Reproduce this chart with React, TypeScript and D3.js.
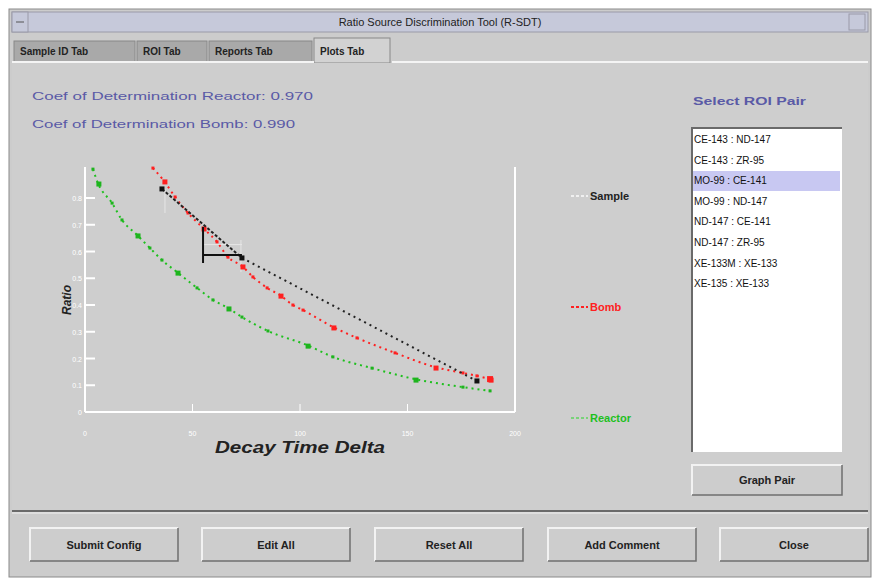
import React from "react";
import * as d3 from "d3";

const reactorX = [3.7, 6.0, 12.6, 17.2, 24.2, 30.2, 35.8, 42.8, 52.1, 59.5, 66.5, 73.0, 85.1, 103.3, 115.3, 133.5, 153.5, 175.8, 188.4];
const reactorY = [9.08, 8.56, 7.81, 7.18, 6.62, 6.13, 5.68, 5.23, 4.64, 4.19, 3.89, 3.55, 3.03, 2.5, 2.06, 1.64, 1.23, 0.93, 0.79];
const bombX = [31.6, 36.7, 41.9, 47.9, 54.9, 61.4, 66.5, 73.0, 78.1, 84.7, 90.7, 96.7, 101.4, 115.3, 126.5, 144.2, 162.8, 175.8, 182.3, 188.4];
const bombY = [9.12, 8.64, 8.04, 7.44, 6.88, 6.36, 5.79, 5.46, 5.05, 4.64, 4.37, 4.0, 3.81, 3.18, 2.77, 2.21, 1.68, 1.46, 1.35, 1.23];
const sampleX = [35.8, 73.0, 182.3];
const sampleY = [8.34, 5.76, 1.16];
// error bars of the middle sample point
const sampleErrX = [54.9, 73.0];
const sampleErrY = [5.57, 6.92];
const sampleErrAt = [54.9, 5.87];

const xTicks = [0, 50, 100, 150, 200];
const yTicks = [0, 1, 2, 3, 4, 5, 6, 7, 8];
const yTickLabels = ["0", "0.1", "0.2", "0.3", "0.4", "0.5", "0.6", "0.7", "0.8"];

const tabs = ["Sample ID Tab", "ROI Tab", "Reports Tab", "Plots Tab"];
const roiPairs = ["CE-143 : ND-147", "CE-143 : ZR-95", "MO-99 : CE-141", "MO-99 : ND-147", "ND-147 : CE-141", "ND-147 : ZR-95", "XE-133M : XE-133", "XE-135 : XE-133"];
const buttons = ["Submit Config", "Edit All", "Reset All", "Add Comment", "Close"];
const legendNames = ["Sample", "Bomb", "Reactor"];
const coefLines = ["Coef of Determination  Reactor: 0.970", "Coef of Determination Bomb: 0.990"];

const FONT = "'Liberation Sans', Arial, sans-serif";

function Button({ x, y, w, h, label }: { x: number; y: number; w: number; h: number; label: string }) {
  return (
    <g>
      <rect x={x} y={y} width={w} height={h} fill="#cdcdcd" />
      <path d={`M${x},${y + h} V${y} H${x + w}`} stroke="#f2f2f2" strokeWidth={2} fill="none" />
      <path d={`M${x + w},${y} V${y + h} H${x}`} stroke="#6f6f6f" strokeWidth={1.5} fill="none" />
      <text x={x + w / 2} y={y + h / 2 + 4} textAnchor="middle" fontSize={11} fontWeight="bold" fill="#222" fontFamily={FONT}>{label}</text>
    </g>
  );
}

export default function App() {
  const x = d3.scaleLinear().domain([0, 200]).range([85, 515]);
  const y = d3.scaleLinear().domain([0, 9.16]).range([412, 167]);
  const line = d3.line<[number, number]>().x((d) => x(d[0])).y((d) => y(d[1])).curve(d3.curveMonotoneX);
  const reactor: [number, number][] = reactorX.map((v, i) => [v, reactorY[i]]);
  const bomb: [number, number][] = bombX.map((v, i) => [v, bombY[i]]);
  const sample: [number, number][] = sampleX.map((v, i) => [v, sampleY[i]]);
  const sampleLine = d3.line<[number, number]>().x((d) => x(d[0])).y((d) => y(d[1]));

  const tabX = [14, 137, 209, 314, 392];
  const btnX = [30, 202, 375, 548, 720];

  return (
    <svg width={881} height={580} style={{ position: "absolute", left: 0, top: 0 }} fontFamily={FONT}>
      <rect width={881} height={580} fill="#ffffff" />
      {/* window */}
      <rect x={9} y={9} width={862} height={568} fill="#cccccc" stroke="#8a8a8a" />
      {/* title bar */}
      <rect x={12} y={12} width={856} height={20} fill="#c6c9da" stroke="#9a9aa8" />
      <rect x={12} y={12} width={16} height={20} fill="#c6c9da" stroke="#9a9aa8" />
      <line x1={16} y1={22} x2={24} y2={22} stroke="#555" />
      <rect x={849} y={14} width={16} height={16} fill="#c6c9da" stroke="#9a9aa8" />
      <text x={440} y={26} textAnchor="middle" fontSize={11} fill="#222">Ratio Source Discrimination Tool (R-SDT)</text>
      {/* tabs */}
      {tabs.map((t, i) => {
        const sel = i === tabs.length - 1;
        const x0 = tabX[i];
        const w = tabX[i + 1] - x0 - 2;
        return (
          <g key={t}>
            <rect x={x0} y={sel ? 38 : 41} width={w} height={sel ? 25 : 21} fill={sel ? "#d2d2d2" : "#a9a9a9"} stroke="#888" />
            <text x={x0 + 6} y={55} fontSize={10} fontWeight="bold" fill="#222">{t}</text>
          </g>
        );
      })}
      <line x1={12} y1={62} x2={314} y2={62} stroke="#f4f4f4" strokeWidth={2} />
      <line x1={392} y1={62} x2={868} y2={62} stroke="#f4f4f4" strokeWidth={2} />
      <rect x={12} y={63} width={856} height={447} fill="#cecece" />
      {/* coef */}
      {coefLines.map((c, i) => (
        <text key={c} x={32} y={100 + i * 28} fontSize={10} fill="#5a5aa6" textLength={i === 0 ? 281 : 263} lengthAdjust="spacingAndGlyphs">{c}</text>
      ))}
      {/* axes */}
      <g stroke="#ffffff" strokeWidth={2}>
        <line x1={x(0)} y1={y(9.16)} x2={x(0)} y2={y(0)} />
        <line x1={x(0)} y1={y(0)} x2={x(200)} y2={y(0)} />
        <line x1={x(200)} y1={y(9.16)} x2={x(200)} y2={y(0)} />
        {yTicks.map((t) => <line key={t} x1={x(0)} y1={y(t)} x2={x(0) + 10} y2={y(t)} />)}
        {xTicks.slice(1, -1).map((t) => <line key={t} x1={x(t)} y1={y(0)} x2={x(t)} y2={y(0) - 8} strokeWidth={1} />)}
      </g>
      {yTicks.map((t, i) => (
        <text key={t} x={x(0) - 3} y={y(t) + 3} textAnchor="end" fontSize={7} fill="#ffffff">{yTickLabels[i]}</text>
      ))}
      {xTicks.map((t) => (
        <text key={t} x={x(t)} y={436} textAnchor="middle" fontSize={7} fill="#ffffff">{t}</text>
      ))}
      <text x={300} y={453} textAnchor="middle" fontSize={17} fontStyle="italic" fontWeight="bold" fill="#222" textLength={170} lengthAdjust="spacingAndGlyphs">Decay Time Delta</text>
      <text transform="translate(71,300) rotate(-90)" textAnchor="middle" fontSize={12} fontStyle="italic" fontWeight="bold" fill="#222">Ratio</text>
      {/* light error bars */}
      <g stroke="#e6e6e6" strokeWidth={1}>
        <line x1={x(sampleX[0]) + 3} y1={y(sampleY[0])} x2={x(sampleX[0]) + 3} y2={y(sampleY[0] - 0.9)} />
        <line x1={x(sampleX[1]) - 1} y1={y(sampleY[1] + 0.67)} x2={x(sampleX[1]) - 1} y2={y(sampleY[1] - 0.53)} />
        <line x1={x(sampleErrX[0])} y1={y(sampleY[1] + 0.5)} x2={x(sampleX[1])} y2={y(sampleY[1] + 0.5)} />
      </g>
      {/* series */}
      <path d={line(reactor) || ""} fill="none" stroke="#1ec01e" strokeWidth={2} strokeDasharray="2 4" />
      {reactor.map((d, i) => <rect key={i} x={x(d[0]) - 1.5} y={y(d[1]) - 1.5} width={i % 3 === 1 ? 5 : 3} height={i % 3 === 1 ? 5 : 3} fill="#1eb41e" />)}
      <path d={line(bomb) || ""} fill="none" stroke="#ff2020" strokeWidth={2} strokeDasharray="2 4" />
      {bomb.map((d, i) => <rect key={i} x={x(d[0]) - 1.5} y={y(d[1]) - 1.5} width={i % 3 === 1 ? 5 : 3} height={i % 3 === 1 ? 5 : 3} fill="#ff2020" />)}
      <rect x={x(bombX[bombX.length - 1]) - 3} y={y(bombY[bombY.length - 1]) - 3} width={6} height={6} fill="#ff2020" />
      <path d={sampleLine(sample.slice(0, 2)) || ""} fill="none" stroke="#222" strokeWidth={2} strokeDasharray="3 2" />
      <path d={sampleLine(sample.slice(1)) || ""} fill="none" stroke="#222" strokeWidth={2} strokeDasharray="2 4" />
      <g stroke="#111" strokeWidth={2}>
        <line x1={x(sampleErrAt[0])} y1={y(sampleErrY[0])} x2={x(sampleErrAt[0])} y2={y(sampleErrY[1])} />
        <line x1={x(sampleErrX[0])} y1={y(sampleErrAt[1])} x2={x(sampleErrX[1])} y2={y(sampleErrAt[1])} />
      </g>
      {sample.map((d, i) => <rect key={i} x={x(d[0]) - 2.5} y={y(d[1]) - 2.5} width={5} height={5} fill="#111" />)}
      {/* legend */}
      {legendNames.map((n, i) => {
        const col = ["#222", "#ff2020", "#1ec01e"][i];
        const lc = ["#f0f0f0", "#ff2020", "#7ad27a"][i];
        const ly = [196, 307, 418][i];
        return (
          <g key={n}>
            <line x1={571} y1={ly} x2={588} y2={ly} stroke={lc} strokeWidth={2} strokeDasharray="3 2" />
            <text x={590} y={ly + 4} fontSize={11} fontWeight="bold" fill={col}>{n}</text>
          </g>
        );
      })}
      {/* ROI list */}
      <text x={693} y={105} fontSize={11} fontWeight="bold" fill="#5a5aa6" textLength={113} lengthAdjust="spacingAndGlyphs">Select ROI Pair</text>
      <rect x={692} y={128} width={150} height={324} fill="#ffffff" />
      <path d="M692,452 V128 H842" stroke="#6a6a6a" strokeWidth={2} fill="none" />
      <rect x={693} y={171} width={147} height={20} fill="#c8c8f2" />
      {roiPairs.map((p, i) => (
        <text key={p} x={694} y={143 + i * 20.6} fontSize={10} fill="#111">{p}</text>
      ))}
      <Button x={692} y={465} w={150} h={30} label="Graph Pair" />
      {/* bottom panel */}
      <line x1={12} y1={511} x2={868} y2={511} stroke="#6a6a6a" strokeWidth={2} />
      <line x1={12} y1={513} x2={868} y2={513} stroke="#f0f0f0" strokeWidth={1} />
      {buttons.map((b, i) => (
        <Button key={b} x={btnX[i]} y={528} w={148} h={33} label={b} />
      ))}
    </svg>
  );
}
